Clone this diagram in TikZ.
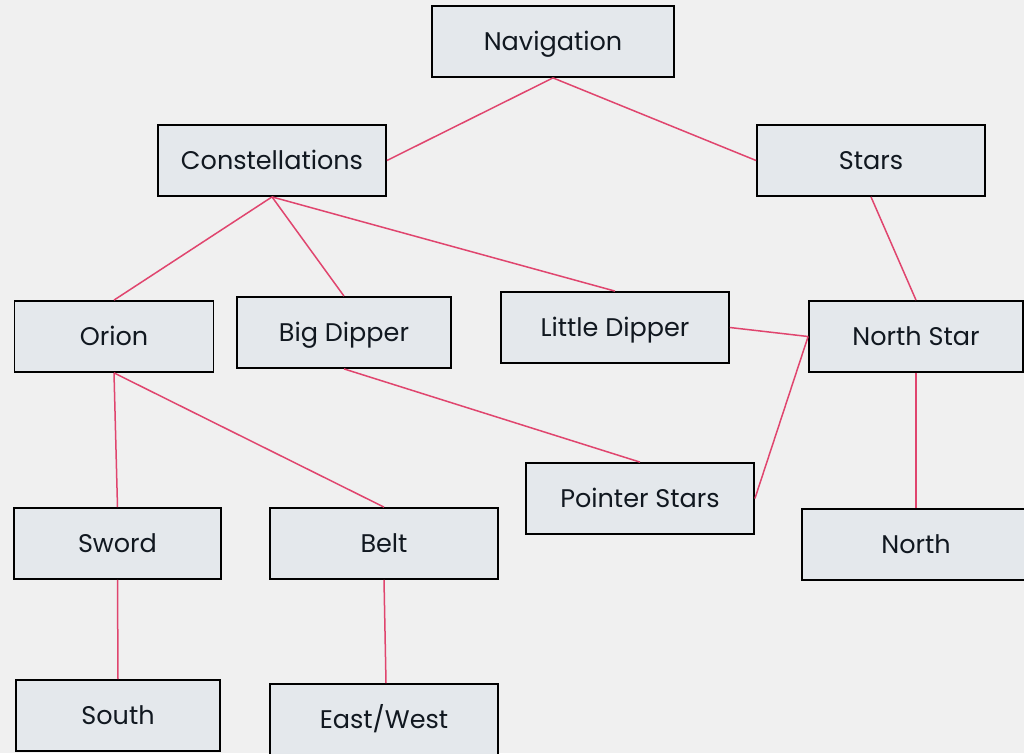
\documentclass[tikz,border=0pt]{standalone}
\usepackage{fontspec}
\setmainfont{Poppins}
\definecolor{bg}{HTML}{F0F0F0}
\definecolor{boxfill}{HTML}{E4E8EC}
\definecolor{link}{HTML}{E0456E}
\definecolor{ink}{HTML}{111820}
\begin{document}
\begin{tikzpicture}[x=1pt,y=-1pt,
  box/.style={draw=black,line width=1.8pt,fill=boxfill,text=ink,
    minimum height=71pt,inner sep=0pt,text height=17.8pt,text depth=0pt,
    font=\fontsize{25.5}{30}\selectfont},
  link/.style={draw=link,line width=1.5pt}]
\fill[bg] (0,0) rectangle (1024,753);
\useasboundingbox (0,0) rectangle (1024,753);
% boxes, placed by centre and width
\node[box,minimum width=242pt] (nav) at (553,41.5) {Navigation};
\node[box,minimum width=228pt] (con) at (272,160.5) {Constellations};
\node[box,minimum width=228pt] (stars) at (871,160.5) {Stars};
\node[box,minimum width=199pt] (orion) at (114,336.5) {Orion};
\node[box,minimum width=214pt] (big) at (344,332.5) {Big Dipper};
\node[box,minimum width=228pt] (little) at (615,327.5) {Little Dipper};
\node[box,minimum width=214pt] (nstar) at (916,336.5) {North Star};
\node[box,minimum width=228pt] (pointer) at (640,498.5) {Pointer Stars};
\node[box,minimum width=207pt] (sword) at (117.5,543.5) {Sword};
\node[box,minimum width=228pt] (belt) at (384,543.5) {Belt};
\node[box,minimum width=228pt] (north) at (916,544.5) {North};
\node[box,minimum width=204pt] (south) at (118,715.5) {South};
\node[box,minimum width=228pt] (ew) at (384,719.5) {East/West};
% connectors
\draw[link] (nav.south) -- (con.east);
\draw[link] (nav.south) -- (stars.west);
\draw[link] (con.south) -- (orion.north);
\draw[link] (con.south) -- (big.north);
\draw[link] (con.south) -- (little.north);
\draw[link] (stars.south) -- (nstar.north);
\draw[link] (little.east) -- (nstar.west);
\draw[link] (nstar.west) -- (pointer.east);
\draw[link] (big.south) -- (pointer.north);
\draw[link] (orion.south) -- (sword.north);
\draw[link] (orion.south) -- (belt.north);
\draw[link] (nstar.south) -- (north.north);
\draw[link] (sword.south) -- (south.north);
\draw[link] (belt.south) -- ([xshift=2pt]ew.north);
\end{tikzpicture}
\end{document}
